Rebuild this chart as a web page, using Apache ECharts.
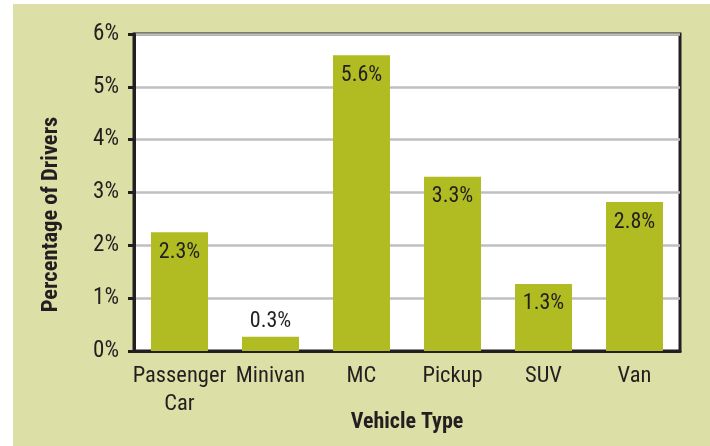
<!DOCTYPE html>
<html><head><meta charset="utf-8">
<script src="https://cdn.jsdelivr.net/npm/echarts@6/dist/echarts.min.js"></script>
<style>html,body{margin:0;padding:0;background:#fff}#c{width:710px;height:446px}</style>
</head><body><div id="c"></div>
<script>
const categories = ['Passenger\nCar', 'Minivan', 'MC', 'Pickup', 'SUV', 'Van'];
const values = [2.25, 0.27, 5.6, 3.3, 1.27, 2.82];
const valueLabels = ['2.3%', '0.3%', '5.6%', '3.3%', '1.3%', '2.8%'];
const yTicks = [0, 1, 2, 3, 4, 5, 6];

const FONT = "'Liberation Sans Narrow', 'Arial Narrow', 'Roboto Condensed', sans-serif";
const TXT = '#231f20';
const chart = echarts.init(document.getElementById('c'));
chart.setOption({
  animation: false,
  backgroundColor: '#fff',
  graphic: [{type: 'rect', z: -10, shape: {x: 13, y: 4, width: 697, height: 442}, style: {fill: '#dcdfa6'}}],
  grid: {left: 134, right: 30, top: 34, bottom: 95, outerBoundsMode: 'none', containLabel: false,
    show: true, backgroundColor: '#fff', borderColor: TXT, borderWidth: 3},
  xAxis: {
    type: 'category', data: categories,
    name: 'Vehicle Type', nameLocation: 'middle', nameGap: 60, nameMoveOverlap: false,
    nameTextStyle: {fontFamily: FONT, fontSize: 22, fontWeight: 'bold', color: TXT},
    axisLine: {lineStyle: {color: TXT, width: 3}},
    axisTick: {length: 8, lineStyle: {color: TXT, width: 3}},
    axisLabel: {fontFamily: FONT, fontSize: 22.5, color: TXT, margin: 11, lineHeight: 28, interval: 0}
  },
  yAxis: {
    type: 'value', min: yTicks[0], max: yTicks[yTicks.length - 1], interval: 1,
    name: 'Percentage of Drivers', nameLocation: 'middle', nameGap: 71, nameRotate: 90, nameMoveOverlap: false,
    nameTextStyle: {fontFamily: FONT, fontSize: 22.5, fontWeight: 'bold', color: TXT, padding: [0, 44, 0, 0]},
    axisLine: {show: true, lineStyle: {color: TXT, width: 3}},
    axisTick: {show: true, length: 6, lineStyle: {color: TXT, width: 3}},
    axisLabel: {fontFamily: FONT, fontSize: 23, color: TXT, margin: 15, formatter: v => v + '%'},
    splitLine: {lineStyle: {color: '#bfbfbf', width: 2.5}}
  },
  series: [{
    type: 'bar', barWidth: 57,
    data: values.map((v, i) => ({
      value: v,
      label: {position: i === 1 ? 'top' : 'insideTop', distance: i === 1 ? 4 : 9}
    })),
    itemStyle: {color: '#b0bc22'},
    label: {show: true, fontFamily: FONT, fontSize: 22, color: TXT,
      formatter: p => valueLabels[p.dataIndex]}
  }]
});
</script></body></html>
